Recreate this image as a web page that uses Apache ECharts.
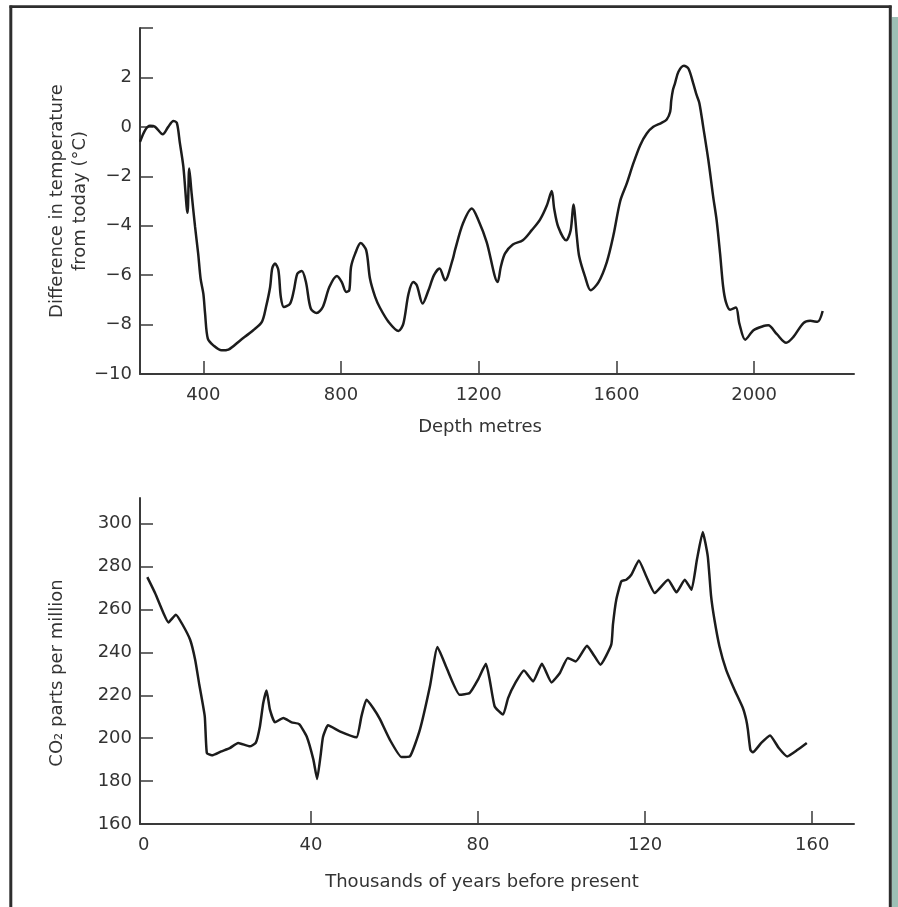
<!DOCTYPE html>
<html>
<head>
<meta charset="utf-8">
<script src="https://cdn.jsdelivr.net/npm/echarts@6/dist/echarts.min.js"></script>
<style>
html,body{margin:0;padding:0;background:#fff;}
#c{width:898px;height:907px;}
</style>
</head>
<body>
<div id="c"></div>
<script>
// Top panel: temperature difference vs depth
const depthMetres = [216,231,245,260,282,298,313,323,332,342,354,359,366,376,385,392,400,405,413,429,453,473,507,545,570,582,594,600,608,618,625,634,652,663,673,686,698,712,729,747,766,788,802,815,824,829,841,857,873,884,899,913,938,967,981,996,1010,1020,1037,1054,1070,1086,1102,1125,1131,1154,1180,1199,1223,1255,1264,1276,1299,1328,1354,1378,1398,1412,1419,1431,1454,1467,1475,1485,1492,1509,1525,1548,1572,1591,1611,1630,1649,1669,1688,1707,1731,1746,1756,1759,1764,1770,1780,1796,1809,1823,1833,1841,1852,1867,1881,1891,1901,1910,1918,1930,1947,1957,1974,1998,2027,2041,2066,2093,2114,2143,2163,2184,2199];
const tempDiff = [-0.61,-0.13,0.04,0,-0.30,0,0.24,0.16,-0.67,-1.62,-3.48,-1.69,-2.70,-4.05,-5.13,-6.14,-6.75,-7.55,-8.57,-8.84,-9.04,-9.01,-8.64,-8.23,-7.89,-7.29,-6.48,-5.73,-5.53,-5.80,-6.88,-7.29,-7.15,-6.61,-5.94,-5.83,-6.28,-7.35,-7.53,-7.29,-6.48,-6.03,-6.28,-6.68,-6.61,-5.67,-5.13,-4.70,-4.99,-6.14,-6.88,-7.32,-7.89,-8.26,-7.96,-6.75,-6.28,-6.41,-7.15,-6.61,-6.00,-5.73,-6.21,-5.33,-4.99,-3.91,-3.30,-3.78,-4.66,-6.28,-5.67,-5.13,-4.76,-4.59,-4.18,-3.75,-3.17,-2.60,-3.30,-4.05,-4.59,-4.18,-3.14,-4.45,-5.26,-6.07,-6.61,-6.28,-5.47,-4.40,-3.00,-2.29,-1.48,-0.74,-0.27,0,0.16,0.30,0.61,1.05,1.49,1.76,2.23,2.47,2.36,1.76,1.28,0.95,0,-1.35,-2.83,-3.78,-5.13,-6.48,-7.09,-7.40,-7.31,-7.96,-8.61,-8.23,-8.06,-8.03,-8.39,-8.74,-8.50,-7.94,-7.85,-7.89,-7.45];
const depthTicks = [400,800,1200,1600,2000];
const tempTicks = [-10,-8,-6,-4,-2,0,2,4];
const tempLabels = [-10,-8,-6,-4,-2,0,2];

// Bottom panel: CO2 vs thousands of years before present
const kyrBP = [0.85,2.7,4.7,5.9,7.7,9.3,11.1,12.3,13.3,14.6,15.1,16.3,18.6,20.6,22.6,25.4,26.8,27.8,28.6,29.4,30.2,31.4,33.4,35.4,37.2,39.0,40.6,41.5,42.3,42.9,44.1,46.9,50.9,52.1,53.3,54.9,56.5,58.9,61.7,63.7,66.1,68.5,70.3,72.5,75.6,78.0,80.0,81.9,82.8,84.0,86.0,87.2,89.0,91.0,93.2,95.3,97.6,99.6,101.5,103.4,106.1,107.5,109.3,111.9,112.3,113.1,114.3,115.5,116.7,118.5,120.3,122.3,125.5,127.5,129.5,131.1,132.4,133.8,135.0,135.8,136.6,137.8,139.4,141.4,143.4,144.2,144.6,145.2,145.8,147.8,149.9,152.0,154.0,156.5,158.7];
const co2ppm = [275.1,267.7,258.4,254.0,257.6,252.9,245.9,236.6,224.9,210.2,193.1,192.0,193.9,195.4,197.8,196.2,197.8,205.5,216.4,222.3,213.3,207.4,209.4,207.4,206.6,200.8,190.0,181.0,191.5,200.6,206.0,203.2,200.4,210.2,217.9,214.1,209.0,199.3,191.2,191.5,204.0,224.2,242.5,232.7,220.3,221.1,227.3,234.7,227.3,214.8,211.0,218.7,226.0,231.6,226.5,234.7,226.0,230.4,237.4,235.8,243.1,239.4,234.3,243.6,253.0,264.6,273.1,273.9,276.2,282.9,275.4,267.7,273.9,268.0,273.9,269.2,283.2,296.1,284.8,266.1,255.2,242.8,231.9,222.6,214.1,208.6,204.0,194.6,193.4,197.8,201.3,195.4,191.5,194.6,197.8];
const kyrLabels = [0,40,80,120,160];
const kyrTicks = [40,80,120,160];
const co2Ticks = [160,180,200,220,240,260,280,300];

const FONT = 'DejaVu Sans';
const TXT = '#333333';
const AX = '#3a3a3a';
const plain = v => String(v).replace('-', '\u2212');

function zip(a, b) { return a.map((v, i) => [v, b[i]]); }

function axisBase() {
  return {
    axisLine: { show: true, onZero: false, lineStyle: { color: AX, width: 2 } },
    splitLine: { show: false },
    nameMoveOverlap: false
  };
}

const chart = echarts.init(document.getElementById('c'), null, { renderer: 'canvas' });
const option = {
  backgroundColor: '#ffffff',
  animation: false,
  graphic: [
    { type: 'rect', shape: { x: 892, y: 17, width: 6, height: 890 }, style: { fill: '#9dbfb5' }, silent: true },
    { type: 'line', shape: { x1: 9.5, y1: 6.7, x2: 891.5, y2: 6.7 }, style: { stroke: '#2e2e2e', lineWidth: 2.7 }, silent: true },
    { type: 'line', shape: { x1: 10.8, y1: 5.5, x2: 10.8, y2: 907 }, style: { stroke: '#2e2e2e', lineWidth: 3 }, silent: true },
    { type: 'line', shape: { x1: 890.3, y1: 5.5, x2: 890.3, y2: 907 }, style: { stroke: '#2e2e2e', lineWidth: 3 }, silent: true }
  ],
  grid: [
    { left: 140, top: 28, width: 714, height: 346 },
    { left: 140, top: 498, width: 714, height: 326 }
  ],
  xAxis: [
    Object.assign(axisBase(), {
      type: 'value', gridIndex: 0, min: 216, max: 2290,
      name: 'Depth metres', nameLocation: 'middle', nameGap: 44,
      axisTick: { show: true, inside: true, length: 13, customValues: depthTicks, lineStyle: { color: AX, width: 1.5 } },
      axisLabel: { color: TXT, fontFamily: FONT, fontSize: 18, margin: 12, customValues: depthTicks, formatter: plain },
      nameTextStyle: { color: TXT, fontFamily: FONT, fontSize: 18, padding: [0, 34, 0, 0] }
    }),
    Object.assign(axisBase(), {
      type: 'value', gridIndex: 1, min: -0.9, max: 170,
      name: 'Thousands of years before present', nameLocation: 'middle', nameGap: 49,
      axisTick: { show: true, inside: true, length: 13, customValues: kyrTicks, lineStyle: { color: AX, width: 1.5 } },
      axisLabel: { color: TXT, fontFamily: FONT, fontSize: 18, margin: 12, customValues: kyrLabels, formatter: plain },
      nameTextStyle: { color: TXT, fontFamily: FONT, fontSize: 18, padding: [0, 30, 0, 0] }
    })
  ],
  yAxis: [
    Object.assign(axisBase(), {
      type: 'value', gridIndex: 0, min: -10, max: 4,
      name: 'Difference in temperature\nfrom today (\u00b0C)', nameLocation: 'middle', nameGap: 48,
      axisTick: { show: true, inside: true, length: 13, customValues: tempTicks, lineStyle: { color: AX, width: 1.5 } },
      axisLabel: { color: TXT, fontFamily: FONT, fontSize: 18, margin: 8, customValues: tempLabels, formatter: plain },
      nameTextStyle: { color: TXT, fontFamily: FONT, fontSize: 18, lineHeight: 23 }
    }),
    Object.assign(axisBase(), {
      type: 'value', gridIndex: 1, min: 160, max: 312,
      name: 'CO\u2082 parts per million', nameLocation: 'middle', nameGap: 74,
      axisTick: { show: true, inside: true, length: 13, customValues: co2Ticks, lineStyle: { color: AX, width: 1.5 } },
      axisLabel: { color: TXT, fontFamily: FONT, fontSize: 18, margin: 8, customValues: co2Ticks, formatter: plain },
      nameTextStyle: { color: TXT, fontFamily: FONT, fontSize: 18, padding: [0, 24, 0, 0] }
    })
  ],
  series: [
    {
      type: 'line', xAxisIndex: 0, yAxisIndex: 0, data: zip(depthMetres, tempDiff),
      showSymbol: false, symbol: 'none', smooth: 0.3,
      lineStyle: { color: '#1c1c1c', width: 2.5 }
    },
    {
      type: 'line', xAxisIndex: 1, yAxisIndex: 1, data: zip(kyrBP, co2ppm),
      showSymbol: false, symbol: 'none', smooth: 0.15,
      lineStyle: { color: '#1c1c1c', width: 2.5 }
    }
  ]
};
chart.setOption(option);
</script>
</body>
</html>
